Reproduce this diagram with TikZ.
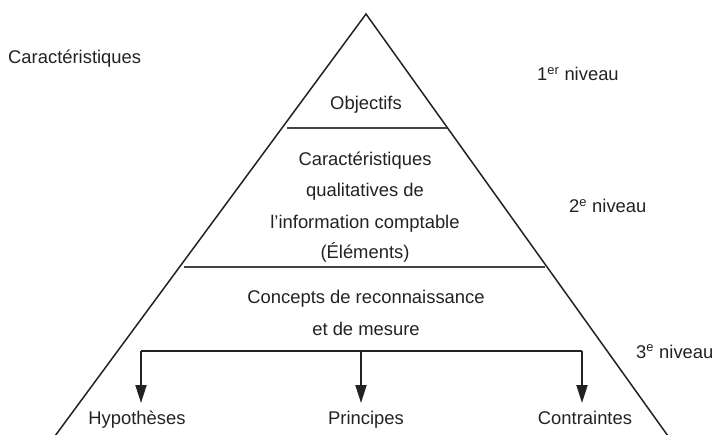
\documentclass[tikz,border=0pt]{standalone}
\usepackage{fontspec}
\setmainfont{Liberation Sans}
\usetikzlibrary{arrows.meta}
\definecolor{ink}{HTML}{222222}
\begin{document}
\begin{tikzpicture}[x=1pt,y=-1pt,
  every node/.style={font=\fontsize{18.4}{22}\selectfont, text=ink, inner sep=0pt},
  lbl/.style={anchor=base},
  lbll/.style={anchor=base west},
  side/.style={draw=ink, line width=1.5pt},
  divider/.style={draw=ink!85, line width=2.4pt},
  bar/.style={draw=ink, line width=2pt},
  arr/.style={draw=ink, line width=2pt, -{Triangle[width=11pt,length=18pt]}}]
\useasboundingbox (0,0) rectangle (714,435);
% triangle
\coordinate (apex) at (366,14);
\coordinate (bl) at (55,436);
\coordinate (br) at (668,436);
\draw[side, line join=miter] (bl) -- (apex) -- (br);
% dividers
\coordinate (d1l) at (287,128);
\coordinate (d1r) at (447,128);
\coordinate (d2l) at (184,267);
\coordinate (d2r) at (545,267);
\draw[divider] (d1l) -- (d1r);
\draw[divider] (d2l) -- (d2r);
% texts
\node[lbll] (car) at (8,64) {Caractéristiques};
\node[lbll] (n1) at (537,81) {1\textsuperscript{er} niveau};
\node[lbll] (n2) at (569,213) {2\textsuperscript{e} niveau};
\node[lbll] (n3) at (636,358) {3\textsuperscript{e} niveau};
\node[lbl] (obj) at (366,110) {Objectifs};
\node[lbl] (m1) at (365,166) {Caractéristiques};
\node[lbl] (m2) at (365,197) {qualitatives de};
\node[lbl] (m3) at (365,229) {l’information comptable};
\node[lbl] (m4) at (365,259) {(Éléments)};
\node[lbl] (c1) at (366,303) {Concepts de reconnaissance};
\node[lbl] (c2) at (366,335) {et de mesure};
\node[lbl] (hyp) at (137,424) {Hypothèses};
\node[lbl] (pri) at (366,424) {Principes};
\node[lbl] (con) at (585,424) {Contraintes};
% tree
\coordinate (b1) at (141,351);
\coordinate (b2) at (361,351);
\coordinate (b3) at (582,351);
\coordinate (t1) at (141,403);
\coordinate (t2) at (361,403);
\coordinate (t3) at (582,403);
\draw[bar] (b1) -- (b3);
\draw[arr] (b1) -- (t1);
\draw[arr] (b2) -- (t2);
\draw[arr] (b3) -- (t3);
\end{tikzpicture}
\end{document}
